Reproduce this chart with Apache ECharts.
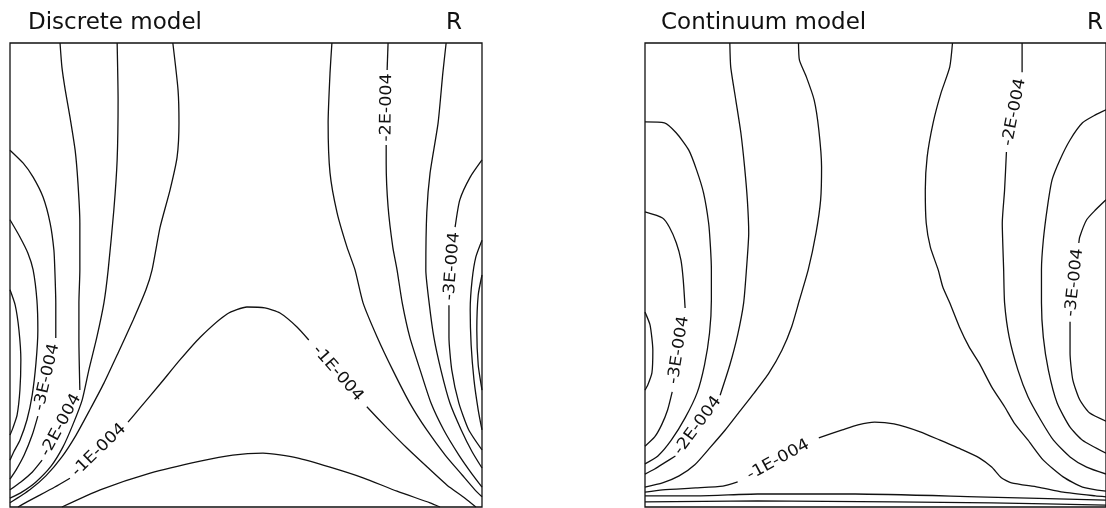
<!DOCTYPE html>
<html>
<head>
<meta charset="utf-8">
<script src="https://cdn.jsdelivr.net/npm/echarts@6/dist/echarts.min.js"></script>
<style>
  html, body { margin: 0; padding: 0; background: #fff; }
  #chart { width: 1106px; height: 508px; }
</style>
</head>
<body>
<div id="chart"></div>
<script>
// Contours of R over the (r, z) section, both coordinates scaled to 0..1
// (z = 1 at the top edge). A null inside a line is the break where the
// level label of that line is written.

const panelTitles = ['Discrete model', 'Continuum model'];
const quantityName = 'R';

// ---- Discrete model ----
const discreteWall0 = [[0,.468],[.011,.435],[.019,.381],[.023,.317],[.021,.252],[.015,.198],[.006,.170],[0,.155]];
const discreteWall1 = [[0,.619],[.021,.582],[.038,.547],[.049,.511],[.057,.446],[.059,.381],[.055,.310],[.047,.241],[.036,.188],[.021,.144],[.008,.119],[0,.101]];
const discreteWall2 = [[0,.769],[.028,.741],[.049,.711],[.070,.668],[.085,.612],[.093,.554],[.095,.511],[.097,.440],[.097,.364],null,[.059,.196],[.047,.155],[.030,.112],[.013,.080],[0,.060]];
const discreteWall3 = [[.106,1],[.110,.948],[.117,.899],[.127,.841],[.138,.769],[.144,.698],[.148,.612],[.148,.511],[.146,.440],[.146,.360],[.148,.252],null,[.068,.101],[.047,.075],[.023,.054],[0,.037]];
const discreteWall4 = [[.227,1],[.229,.877],[.227,.748],[.220,.640],[.208,.511],[.199,.440],[.184,.366],[.167,.295],[.153,.231],[.133,.177],[.112,.129],[.087,.088],[.055,.054],[.025,.032],[0,.019]];
const discreteWall5 = [[.345,1],[.356,.899],[.358,.828],[.354,.754],[.339,.683],[.318,.603],[.301,.511],[.288,.468],[.261,.403],[.229,.332],[.199,.267],[.169,.209],[.140,.155],[.110,.108],[.076,.067],[.042,.037],[0,.009]];
const discreteHump = [[.017,0],[.036,.011],[.064,.026],[.095,.043],[.127,.062],null,[.250,.183],[.275,.213],[.318,.265],[.360,.317],[.403,.366],[.460,.416],[.502,.431],[.540,.429],[.572,.418],[.608,.388],[.633,.360],null,[.756,.216],[.799,.170],[.841,.127],[.884,.086],[.926,.047],[.964,.019],[.987,0]];
const discreteBase = [[.110,0],[.191,.037],[.297,.073],[.403,.099],[.472,.112],[.536,.116],[.608,.106],[.678,.086],[.748,.063],[.820,.034],[.890,.009],[.911,0]];
const discreteRight1 = [[.682,1],[.678,.935],[.674,.828],[.678,.720],[.693,.634],[.714,.560],[.731,.511],[.748,.440],[.778,.366],[.811,.295],[.847,.224],[.883,.166],[.922,.112],[.958,.069],[.985,.037],[1,.022]];
const discreteRight2 = [[.801,1],[.799,.942],null,[.797,.780],[.797,.741],[.801,.647],[.811,.560],[.820,.511],[.831,.440],[.847,.366],[.869,.295],[.892,.224],[.919,.166],[.951,.112],[.979,.071],[1,.043]];
const discreteRight3 = [[.924,1],[.917,.935],[.907,.828],[.890,.720],[.883,.634],[.881,.511],[.888,.440],[.898,.366],[.913,.295],[.932,.224],[.956,.166],[.979,.119],[1,.084]];
const discreteRight4 = [[1,.748],[.975,.711],[.953,.662],[.943,.603],null,[.930,.435],[.930,.366],[.936,.295],[.951,.224],[.972,.166],[1,.123]];
const discreteRight5 = [[1,.575],[.987,.539],[.979,.489],[.975,.425],[.977,.349],[.983,.274],[.992,.209],[1,.166]];
const discreteRight6 = [[1,.500],[.992,.457],[.989,.381],[.992,.306],[1,.252]];

const discreteLines = [discreteWall0, discreteWall1, discreteWall2, discreteWall3, discreteWall4, discreteWall5,
  discreteHump, discreteBase, discreteRight1, discreteRight2, discreteRight3, discreteRight4, discreteRight5, discreteRight6];
const discreteLevels = ['', '', '-3E-004', '-2E-004', '', '', '-1E-004', '', '', '-2E-004', '', '-3E-004', '', ''];

// ---- Continuum model ----
const continuumWall0 = [[0,.420],[.011,.392],[.017,.338],[.015,.289],[.006,.263],[0,.252]];
const continuumWall1 = [[0,.636],[.038,.623],[.053,.603],[.068,.569],[.078,.532],[.083,.489],[.087,.429],null,[.059,.248],[.049,.209],[.036,.177],[.021,.151],[0,.131]];
const continuumWall2 = [[0,.830],[.042,.828],[.068,.806],[.095,.769],[.112,.726],[.127,.677],[.138,.612],[.142,.560],[.144,.511],[.144,.446],[.140,.375],[.129,.306],[.113,.246],[.087,.192],[.057,.144],[.028,.110],[0,.093]];
const continuumWall3 = [[.184,1],[.186,.948],[.197,.877],[.208,.806],[.216,.733],[.222,.662],[.225,.591],[.220,.511],[.214,.440],[.201,.371],[.184,.306],[.163,.241],null,[.066,.110],[.042,.095],[.021,.082],[0,.071]];
const continuumWall4 = [[.333,1],[.335,.963],[.350,.927],[.367,.877],[.377,.813],[.383,.733],[.381,.662],[.371,.591],[.354,.511],[.335,.446],[.318,.388],[.297,.338],[.269,.289],[.237,.246],[.203,.203],[.174,.166],[.142,.129],[.108,.091],[.074,.067],[.038,.052],[0,.043]];
const continuumHump = [[0,.032],[.038,.037],[.110,.041],[.169,.045],[.201,.054],null,[.377,.149],[.428,.166],[.462,.177],[.498,.183],[.540,.179],[.597,.162],[.640,.144],[.689,.123],[.725,.106],[.752,.086],[.773,.063],[.795,.052],[.852,.043],[.907,.032],[.977,.024],[1,.022]];
const continuumBase1 = [[0,.024],[.117,.024],[.244,.028],[.456,.028],[.720,.022],[1,.015]];
const continuumBase2 = [[0,.011],[.244,.013],[.540,.011],[.752,.009],[1,.004]];
const continuumRight1 = [[.667,1],[.661,.948],[.642,.892],[.625,.828],[.612,.754],[.608,.683],[.610,.612],[.619,.560],[.636,.511],[.646,.474],[.661,.440],[.682,.388],[.703,.345],[.725,.310],[.752,.259],[.780,.216],[.801,.181],[.831,.144],[.864,.101],[.907,.065],[.949,.043],[1,.034]];
const continuumRight2 = [[.818,1],[.818,.937],null,[.784,.765],[.780,.683],[.775,.612],[.778,.511],[.780,.440],[.790,.366],[.809,.295],[.831,.237],[.858,.188],[.886,.144],[.922,.108],[.958,.086],[1,.071]];
const continuumRight3 = [[1,.856],[.977,.845],[.949,.828],[.922,.791],[.900,.748],[.883,.705],[.873,.647],[.864,.575],[.860,.511],[.860,.440],[.864,.366],[.875,.295],[.894,.224],[.922,.172],[.949,.144],[1,.116]];
const continuumRight4 = [[1,.662],[.977,.640],[.958,.619],[.943,.582],[.941,.569],null,[.922,.399],[.922,.332],[.928,.274],[.943,.231],[.964,.203],[1,.185]];

const continuumLines = [continuumWall0, continuumWall1, continuumWall2, continuumWall3, continuumWall4,
  continuumHump, continuumBase1, continuumBase2, continuumRight1, continuumRight2, continuumRight3, continuumRight4];
const continuumLevels = ['', '-3E-004', '', '-2E-004', '', '-1E-004', '', '', '', '-2E-004', '', '-3E-004'];

const INK = '#111';
const chart = echarts.init(document.getElementById('chart'), null, { renderer: 'canvas' });

// Split every line at its breaks; each break gets the line's level label,
// written along the direction joining the two ends of the break.
function panelSeries(lines, levels, idx) {
  const series = [];
  const gaps = [];
  const texts = [];
  lines.forEach((pts, i) => {
    const segs = [[]];
    pts.forEach(p => { if (p === null) segs.push([]); else segs[segs.length - 1].push(p); });
    segs.forEach(s => series.push({
      type: 'line', xAxisIndex: idx, yAxisIndex: idx, data: s,
      symbol: 'none', smooth: 0.2, silent: true, animation: false,
      lineStyle: { color: INK, width: 1.3 }
    }));
    for (let k = 0; k + 1 < segs.length; k++) {
      const a = segs[k][segs[k].length - 1], b = segs[k + 1][0];
      gaps.push([a[0], a[1], b[0], b[1]]);
      texts.push(levels[i]);
    }
  });
  series.push({
    type: 'custom', xAxisIndex: idx, yAxisIndex: idx, data: gaps, silent: true, animation: false,
    encode: { x: [0, 2], y: [1, 3] },
    renderItem: (params, api) => {
      const p1 = api.coord([api.value(0), api.value(1)]);
      const p2 = api.coord([api.value(2), api.value(3)]);
      let ang = Math.atan2(-(p2[1] - p1[1]), p2[0] - p1[0]) * 180 / Math.PI;
      if (ang > 100) ang -= 180; else if (ang <= -80) ang += 180;
      return {
        type: 'text',
        x: (p1[0] + p2[0]) / 2, y: (p1[1] + p2[1]) / 2,
        rotation: ang * Math.PI / 180, scaleX: 1.1,
        style: {
          text: texts[params.dataIndex], fill: INK,
          fontFamily: 'DejaVu Sans', fontSize: 16,
          align: 'center', verticalAlign: 'middle'
        }
      };
    }
  });
  return series;
}

const titleStyle = { fontFamily: 'DejaVu Sans', fontSize: 23, fontWeight: 'normal', color: INK };
const axisBase = { type: 'value', min: 0, max: 1, show: false };

chart.setOption({
  backgroundColor: '#fff',
  animation: false,
  title: [
    { text: panelTitles[0], left: 28, top: 12, padding: 0, textStyle: titleStyle },
    { text: quantityName, left: 446, top: 12, padding: 0, textStyle: titleStyle },
    { text: panelTitles[1], left: 661, top: 12, padding: 0, textStyle: titleStyle },
    { text: quantityName, left: 1087, top: 12, padding: 0, textStyle: titleStyle }
  ],
  grid: [
    { left: 10, top: 43, width: 472, height: 464, show: true, borderColor: INK, borderWidth: 1.3, backgroundColor: 'transparent' },
    { left: 645, top: 43, width: 472, height: 464, show: true, borderColor: INK, borderWidth: 1.3, backgroundColor: 'transparent' }
  ],
  xAxis: [Object.assign({ gridIndex: 0 }, axisBase), Object.assign({ gridIndex: 1 }, axisBase)],
  yAxis: [Object.assign({ gridIndex: 0 }, axisBase), Object.assign({ gridIndex: 1 }, axisBase)],
  series: panelSeries(discreteLines, discreteLevels, 0).concat(panelSeries(continuumLines, continuumLevels, 1))
});
</script>
</body>
</html>
